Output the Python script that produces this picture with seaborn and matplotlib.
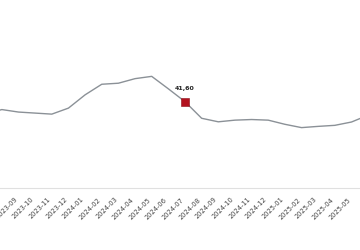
import matplotlib
matplotlib.use("Agg")
import matplotlib.pyplot as plt
import matplotlib.transforms as mtransforms
import seaborn as sns
import pandas as pd

months = ["2023-07", "2023-08", "2023-09", "2023-10", "2023-11", "2023-12",
          "2024-01", "2024-02", "2024-03", "2024-04", "2024-05", "2024-06",
          "2024-07", "2024-08", "2024-09", "2024-10", "2024-11", "2024-12",
          "2025-01", "2025-02", "2025-03", "2025-04", "2025-05", "2025-06"]
values = [35.6, 37.8, 36.6, 36.1, 35.6, 38.5,
          44.9, 50.0, 50.5, 52.7, 53.8, 47.8,
          41.6, 33.6, 31.9, 32.7, 33.0, 32.7,
          30.7, 29.1, 29.7, 30.2, 31.8, 35.1]
highlight_month = "2024-07"
highlight_label = "41,60"

df = pd.DataFrame({"month": months, "value": values})
df["idx"] = range(len(df))

sns.set_theme(style="white")
plt.rcParams["font.family"] = ["DejaVu Sans"]

fig = plt.figure(figsize=(3.6, 2.5), dpi=100)
ax = fig.add_axes([0, 0.248, 1, 0.752])

sns.lineplot(data=df, x="idx", y="value", ax=ax, color="#8b9197", linewidth=1.0)

hi = df[df["month"] == highlight_month]
sns.scatterplot(data=hi, x="idx", y="value", ax=ax, marker="s", s=32,
                color="#b3121f", edgecolor="#8e0e18", linewidth=0.4, zorder=5)
for _, r in hi.iterrows():
    ax.annotate(highlight_label, (r["idx"], r["value"]), xytext=(0, 7.5),
                textcoords="offset points", ha="center", va="bottom",
                fontsize=4.5, fontweight="bold", color="#222222")

ax.set_xticks(df["idx"])
ax.set_xticklabels(df["month"], rotation=45, ha="right", rotation_mode="default",
                   fontsize=4.8, color="#444444")
offset = mtransforms.ScaledTranslation(3.5 / 100, 0, fig.dpi_scale_trans)
for lab in ax.get_xticklabels():
    lab.set_transform(lab.get_transform() + offset)
xmin = 1 - 1.85 / 16.65
ax.set_xlim(xmin, xmin + 360 / 16.65)
ax.set_ylim(0, 188 / 2.075)
ax.tick_params(axis="x", length=0, pad=6)
ax.set_yticks([])
ax.set_xlabel("")
ax.set_ylabel("")
for s in ["top", "left", "right"]:
    ax.spines[s].set_visible(False)
ax.spines["bottom"].set_color("#e0e0e0")
ax.spines["bottom"].set_linewidth(0.8)

fig.savefig("out.png", dpi=100)
